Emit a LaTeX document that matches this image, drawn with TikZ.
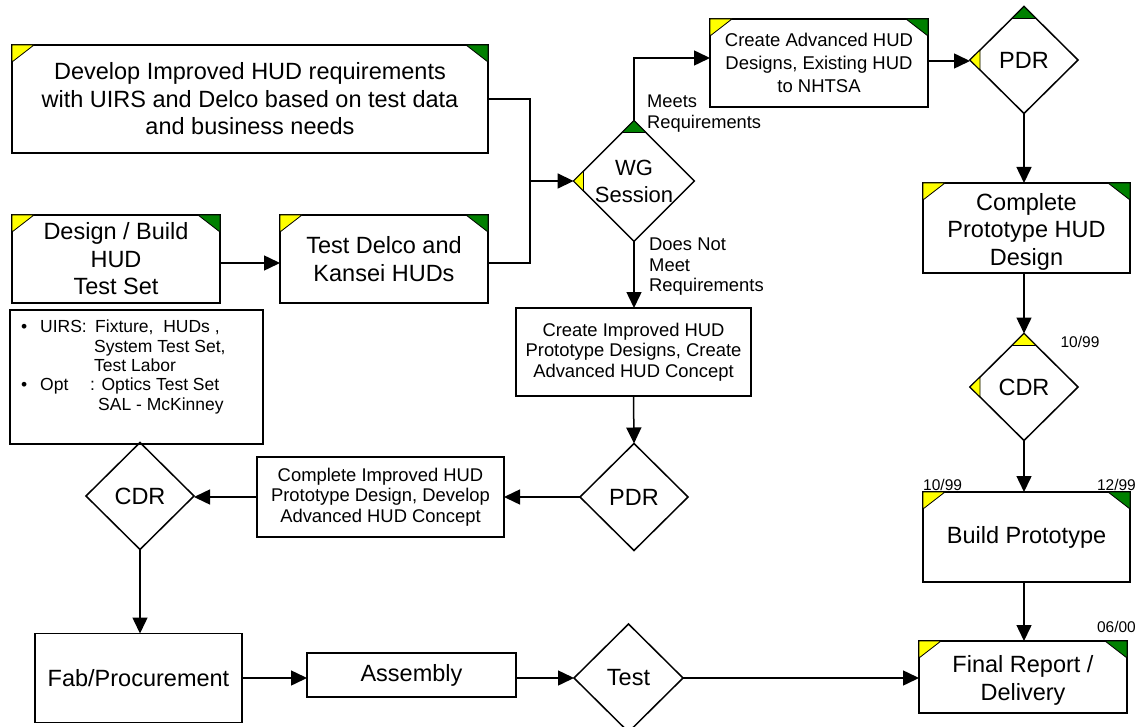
\documentclass[tikz,border=0pt]{standalone}
\usepackage{fontspec}
\setmainfont{Liberation Sans}
\usetikzlibrary{shapes.geometric,arrows.meta}

\definecolor{tabyellow}{RGB}{255,255,0}
\definecolor{tabgreen}{RGB}{0,128,0}

\tikzset{
	box/.style={draw, line width=1.5pt, rectangle, inner sep=0pt, outer sep=0pt, align=center},
	dmd/.style={draw, line width=1.5pt, diamond, inner sep=0pt, outer sep=0pt, minimum width=108pt, minimum height=107pt, align=center, font=\fontsize{23.5}{27.5}\selectfont},
	ln/.style={line width=1.5pt},
	arr/.style={line width=1.5pt, -{Triangle[length=16pt,width=15pt]}},
	yel/.style={fill=tabyellow, draw=black, line width=0.8pt},
	grn/.style={fill=tabgreen, draw=black, line width=0.8pt},
	fbig/.style={font=\fontsize{23.5}{27.5}\selectfont},
	fmid/.style={font=\fontsize{18.4}{20.5}\selectfont},
	fdate/.style={font=\fontsize{15.5}{18}\selectfont, inner sep=0pt},
}

\newcommand{\boxtabs}[1]{%
	\filldraw[yel] (#1.north west) -- ++(22,0) -- ++(-22,17) -- cycle;
	\filldraw[grn] (#1.north east) -- ++(-22,0) -- ++(22,17) -- cycle;}
\newcommand{\toptab}[2]{\filldraw[#2] (#1.north) -- ++(-12,12) -- ++(24,0) -- cycle;}
\newcommand{\lefttab}[1]{\filldraw[yel] (#1.west) -- ++(10,-10) -- ++(0,20) -- cycle;}

\begin{document}
\begin{tikzpicture}[x=1pt, y=-1pt]
	\fill[white] (0,0) rectangle (1137,727);
	\useasboundingbox (0,0) rectangle (1137,727);
	%% left column
	\node[box, fbig, minimum width=476pt, minimum height=108pt] (req) at (250,99) {Develop Improved HUD requirements\\with UIRS and Delco based on test data\\and business needs};
	\node[box, fbig, minimum width=208pt, minimum height=88pt] (build) at (116,259) {Design / Build\\HUD\\Test Set};
	\node[box, fbig, minimum width=208pt, minimum height=88pt] (deltest) at (384,259) {Test Delco and\\Kansei HUDs};
	\node[box, minimum width=253pt, minimum height=134pt] (res) at (136.5,377) {};
	\node[anchor=north west, align=left, inner sep=0pt, font=\fontsize{17.5}{19.3}\selectfont] (restxt) at (21,320) {%
		\makebox[19pt][l]{\textbullet}\makebox[55pt][l]{UIRS:}Fixture,\ \ HUDs ,\\
		\hspace*{73pt}System Test Set,\\
		\hspace*{73pt}Test Labor\\
		\makebox[19pt][l]{\textbullet}\makebox[50pt][l]{Opt}: Optics Test Set\\
		\hspace*{77pt}SAL - McKinney};
	\node[dmd] (cdrB) at (140,496) {CDR};
	\node[box, fmid, minimum width=247pt, minimum height=80pt] (cimp) at (380.5,497) {Complete Improved HUD\\Prototype Design, Develop\\Advanced HUD Concept};
	%% middle column
	\node[dmd, font=\fontsize{22}{27}\selectfont] (wg) at (634,181) {WG\\Session};
	\node[box, fmid, minimum width=235pt, minimum height=88pt] (crimp) at (633.5,352) {Create Improved HUD\\Prototype Designs, Create\\Advanced HUD Concept};
	\node[dmd] (pdrB) at (634,497) {PDR};
	\node[box, font=\fontsize{18.5}{23}\selectfont, minimum width=218pt, minimum height=88pt] (adv) at (819,63) {Create Advanced HUD\\Designs, Existing HUD\\to NHTSA};
	\node[fmid, anchor=west, align=left, inner sep=0pt, font=\fontsize{18.3}{21}\selectfont] (meets) at (647,114) {Meets\\Requirements};
	\node[fmid, anchor=west, align=left, inner sep=0pt] (notmeet) at (649,267) {Does Not\\Meet\\Requirements};
	%% right column
	\node[dmd] (pdrA) at (1024,60) {PDR};
	\node[box, fbig, minimum width=207pt, minimum height=90pt] (proto) at (1026.5,228) {\rule{0pt}{24pt}Complete\\Prototype HUD\\Design};
	\node[dmd] (cdrA) at (1024,387) {CDR};
	\node[box, fbig, minimum width=207pt, minimum height=90pt] (bproto) at (1026.5,537) {Build Prototype};
	\node[box, fbig, minimum width=208pt, minimum height=72pt] (final) at (1023,677) {\rule{0pt}{24pt}Final Report /\\Delivery};
	\node[fdate, anchor=base] (dcdr) at (1080,347) {10/99};
	\node[fdate, anchor=base west] (dstart) at (923,490) {10/99};
	\node[fdate, anchor=base east] (dend) at (1136,490) {12/99};
	\node[fdate, anchor=base east] (dfinal) at (1136,632) {06/00};
	%% bottom row
	\node[box, fbig, minimum width=207pt, minimum height=89pt] (fab) at (138.5,678) {Fab/Procurement};
	\node[box, fbig, minimum width=209pt, minimum height=44pt] (asm) at (411.5,675) {Assembly};
	\node[dmd, minimum width=109pt, minimum height=108pt] (tst) at (628.5,678) {Test};
	%% connectors
	\coordinate (jn) at (530,181);
	\draw[arr] ([yshift=-4pt]build.east) -- ([yshift=-4pt]deltest.west);
	\draw[ln] (req.east) -| (jn) |- ([yshift=-4pt]deltest.east);
	\draw[arr] (jn) -- (wg.west);
	\draw[arr] (wg.north) |- ([yshift=5pt]adv.west);
	\draw[arr] ([yshift=2pt]adv.east) -- ([yshift=2pt]adv.east -| pdrA.west);
	\draw[arr] (pdrA.south) -- (pdrA.south |- proto.north);
	\draw[arr] (cdrA.north |- proto.south) -- (cdrA.north);
	\draw[arr] (cdrA.south) -- (cdrA.south |- bproto.north);
	\draw[arr] (cdrA.south |- bproto.south) -- (cdrA.south |- final.north);
	\draw[arr] (wg.south) -- (wg.south |- crimp.north);
	\draw[arr] (crimp.south) -- (pdrB.north);
	\draw[arr] (pdrB.west) -- (cimp.east);
	\draw[arr] (cimp.west) -- (cimp.west -| cdrB.east);
	\draw[arr] (cdrB.south) -- (cdrB.south |- fab.north);
	\draw[arr] (fab.east) -- (fab.east -| asm.west);
	\draw[arr] (asm.east |- tst.west) -- (tst.west);
	\draw[arr] (tst.east) -- (tst.east -| final.west);
	%% corner tabs
	\boxtabs{req} \boxtabs{build} \boxtabs{deltest} \boxtabs{adv}
	\boxtabs{proto} \boxtabs{bproto} \boxtabs{final}
	\toptab{wg}{grn} \lefttab{wg}
	\toptab{pdrA}{grn} \lefttab{pdrA}
	\toptab{cdrA}{yel} \lefttab{cdrA}
\end{tikzpicture}
\end{document}
